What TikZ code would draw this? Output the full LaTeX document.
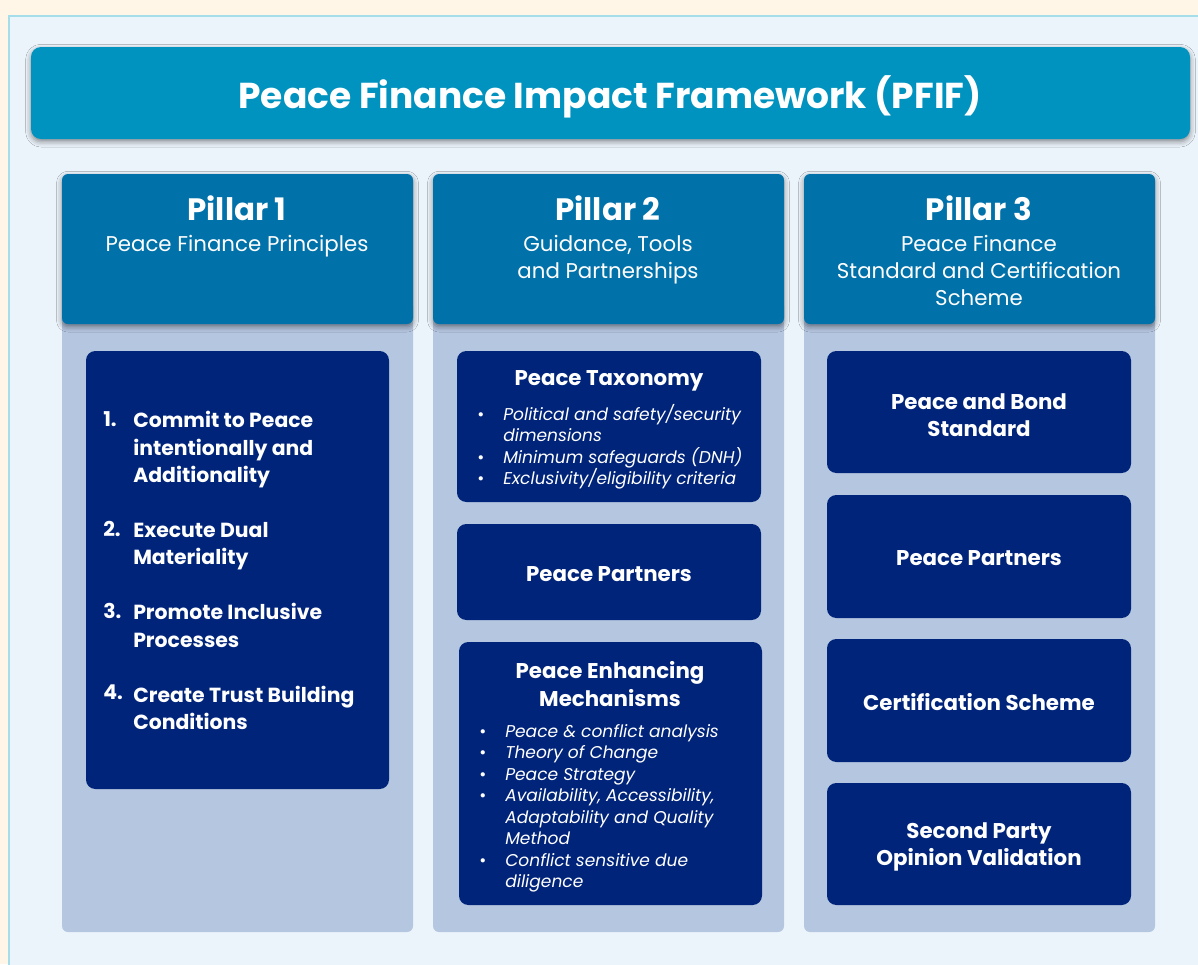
\documentclass[tikz,border=0pt]{standalone}
\usepackage{fontspec}
\setmainfont{Poppins}
\usetikzlibrary{shadows.blur}
\definecolor{cream}{HTML}{FFF6E8}
\definecolor{panel}{HTML}{ECF4FB}
\definecolor{panelborder}{HTML}{A6DDEA}
\definecolor{titleblue}{HTML}{0093BF}
\definecolor{headblue}{HTML}{0071A9}
\definecolor{bodyblue}{HTML}{B5C6E0}
\definecolor{darkblue}{HTML}{00247A}
\newcommand\bl{\makebox[19.5pt][l]{\upshape\textbullet}}
\newcommand\ind{\hspace*{19.5pt}}
\tikzset{
  titlestyle/.style={fill=titleblue, rounded corners=7.5pt,
    blur shadow={shadow xshift=0pt, shadow yshift=-2pt, shadow blur radius=4pt, shadow opacity=45}},
  headstyle/.style={fill=headblue, rounded corners=4.5pt,
    blur shadow={shadow xshift=0pt, shadow yshift=-2pt, shadow blur radius=4pt, shadow opacity=45}},
  bodystyle/.style={fill=bodyblue, rounded corners=4.5pt},
  darkstyle/.style={fill=darkblue, rounded corners=7pt},
  txt/.style={text=white, inner sep=0pt, align=center},
  ttl/.style={txt, font=\fontsize{27}{32}\selectfont\bfseries},
  pil/.style={txt, font=\fontsize{23.2}{27}\selectfont\bfseries},
  sub/.style={txt, font=\fontsize{16}{20.25}\selectfont},
  bx/.style={txt, font=\fontsize{16}{20.5}\selectfont\bfseries},
  bul/.style={txt, align=left, font=\fontsize{12.8}{16.1}\selectfont\itshape},
  lst/.style={txt, align=left, font=\fontsize{15.3}{20.6}\selectfont\bfseries},
}
\begin{document}
\begin{tikzpicture}[x=0.75pt,y=-0.75pt]
\useasboundingbox (0,0) rectangle (1198,964);
\clip (0,0) rectangle (1198,964);
\path[fill=cream] (0,0) rectangle (1198,964);
\path[fill=panel, draw=panelborder, line width=1.2pt] (9,16) rectangle (1220,990);
% title
\path[titlestyle] (31,47) rectangle (1190,139);
\node[ttl] (title) at (610,97) {Peace Finance Impact Framework (PFIF)};
% pillars
\foreach \x in {62,433,804}{
  \path[bodystyle] (\x,300) rectangle ++(351,632);
  \path[headstyle] (\x,174) rectangle ++(351,150);
}
\node[pil] (p1) at (237,208) {Pillar 1};
\node[sub, anchor=north] (s1) at (237,235) {Peace Finance Principles};
\node[pil] (p2) at (608,208) {Pillar 2};
\node[sub, anchor=north] (s2) at (608,235) {Guidance, Tools\\and Partnerships};
\node[pil] (p3) at (979,208) {Pillar 3};
\node[sub, anchor=north] (s3) at (979,235) {Peace Finance\\Standard and Certification\\Scheme};
% pillar 1 box
\path[darkstyle] (86,351) rectangle (389,789);
\node[lst, anchor=north west] (n1) at (103,411) {1.};
\node[lst, anchor=north west] (n2) at (103,521) {2.};
\node[lst, anchor=north west] (n3) at (103,603) {3.};
\node[lst, anchor=north west] (n4) at (103,685) {4.};
\node[lst, anchor=north west] (l1) at (133,411) {Commit to Peace\\intentionally and\\Additionality\\[20.6pt]Execute Dual\\Materiality\\[20.6pt]Promote Inclusive\\Processes\\[20.6pt]Create Trust Building\\Conditions};
% pillar 2 boxes
\path[darkstyle] (457,351) rectangle (761,502);
\node[bx] (tax) at (609,381) {Peace Taxonomy};
\node[bul, anchor=north west] (taxl) at (477,404) {\bl Political and safety/security\\\ind dimensions\\\bl Minimum safeguards (DNH)\\\bl Exclusivity/eligibility criteria};
\path[darkstyle] (457,524) rectangle (761,620);
\node[bx] (pp2) at (609,574) {Peace Partners};
\path[darkstyle] (459,642) rectangle (762,905);
\node[bx] (pem) at (610,684) {Peace Enhancing\\Mechanisms};
\node[bul, anchor=north west] (peml) at (479,724) {\bl Peace \& conflict analysis\\\bl Theory of Change\\\bl Peace Strategy\\\bl Availability, Accessibility,\\\ind Adaptability and Quality\\\ind Method\\\bl Conflict sensitive due\\\ind diligence};
% pillar 3 boxes
\path[darkstyle] (827,351) rectangle (1131,473);
\node[bx] (pbs) at (979,415) {Peace and Bond\\Standard};
\path[darkstyle] (827,495) rectangle (1131,618);
\node[bx] (pp3) at (979,558) {Peace Partners};
\path[darkstyle] (827,639) rectangle (1131,762);
\node[bx] (cs) at (979,702) {Certification Scheme};
\path[darkstyle] (827,783) rectangle (1131,905);
\node[bx] (spo) at (979,847) {Second Party\\Opinion Validation};
\end{tikzpicture}
\end{document}
